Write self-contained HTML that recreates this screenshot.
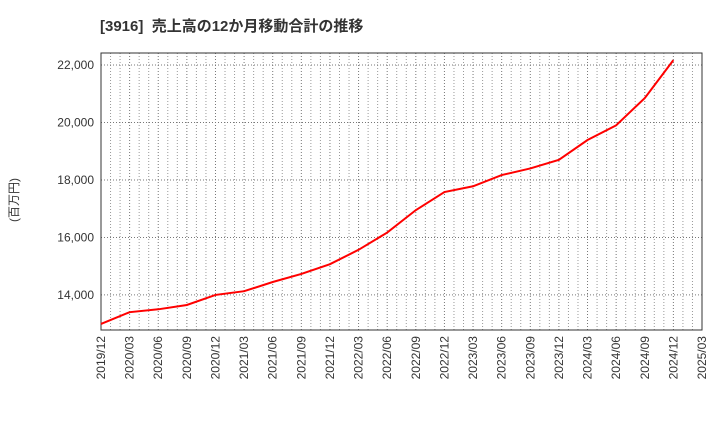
<!DOCTYPE html>
<html><head><meta charset="utf-8"><style>
body{margin:0;background:#fff;font-family:"Liberation Sans","Noto Sans CJK JP",sans-serif;}
svg text{font-family:"Liberation Sans","Noto Sans CJK JP",sans-serif;}
</style></head><body>
<svg id="c" width="720" height="440" xmlns="http://www.w3.org/2000/svg">
<text x="100" y="31" font-size="15" font-weight="bold" fill="#333" xml:space="preserve">[3916]  売上高の12か月移動合計の推移</text>
<text transform="translate(18,200) rotate(-90)" font-size="12" fill="#333" text-anchor="middle">(百万円)</text>
<g id="grid"></g><g id="axes"></g><g id="marks"></g>
</svg>
<script>
const categories=["2019/12","2020/03","2020/06","2020/09","2020/12","2021/03","2021/06","2021/09","2021/12","2022/03","2022/06","2022/09","2022/12","2023/03","2023/06","2023/09","2023/12","2024/03","2024/06","2024/09","2024/12","2025/03"];
const values=[12990,13400,13500,13650,14000,14130,14450,14730,15070,15570,16170,16950,17580,17780,18170,18400,18700,19390,19900,20850,22170];
const yTicks=[14000,16000,18000,20000,22000];
const yTickLabels=["14,000","16,000","18,000","20,000","22,000"];
const L=101,R=702,T=53,B=330,yMin=12780,yMax=22417;
const xs=i=>L+i*(R-L)/(categories.length-1);
const ys=v=>B-(v-yMin)/(yMax-yMin)*(B-T);
const NS="http://www.w3.org/2000/svg";
function mk(p,tag,at){const e=document.createElementNS(NS,tag);for(const k in at)e.setAttribute(k,at[k]);p.appendChild(e);return e;}
const g=document.getElementById('grid'),a=document.getElementById('axes'),m=document.getElementById('marks');
for(let j=1;j<(categories.length-1)*3;j++){
 if(j%3===0)continue;
 const x=xs(j/3);
 const ln=mk(g,'line',{x1:x,x2:x,y1:T,y2:B,stroke:'#999','stroke-dasharray':'1,2','stroke-width':1});
 
 
}
categories.forEach((c,i)=>{
 const x=xs(i);
 const ln=mk(g,'line',{x1:x,x2:x,y1:T,y2:B,stroke:'#777','stroke-dasharray':'1,2','stroke-width':1});
 
 
 const t=mk(a,'text',{transform:`translate(${x+4},${B+6}) rotate(-90)`,'font-size':12,fill:'#333','text-anchor':'end'});
 t.textContent=c;
 
 
});
yTicks.forEach((v,i)=>{
 const y=ys(v);
 const ln=mk(g,'line',{x1:L,x2:R,y1:y,y2:y,stroke:'#777','stroke-dasharray':'1,2','stroke-width':1});
 
 
 const t=mk(a,'text',{x:L-7,y:y+4,'font-size':12,fill:'#333','text-anchor':'end'});
 t.textContent=yTickLabels[i];
 
 
});
const fr=mk(a,'rect',{x:L,y:T,width:R-L,height:B-T,fill:'none',stroke:'#333','stroke-width':1});


const pl=mk(m,'polyline',{points:values.map((v,i)=>xs(i)+','+ys(v)).join(' '),fill:'none',stroke:'#f00','stroke-width':2});


</script>
</body></html>
